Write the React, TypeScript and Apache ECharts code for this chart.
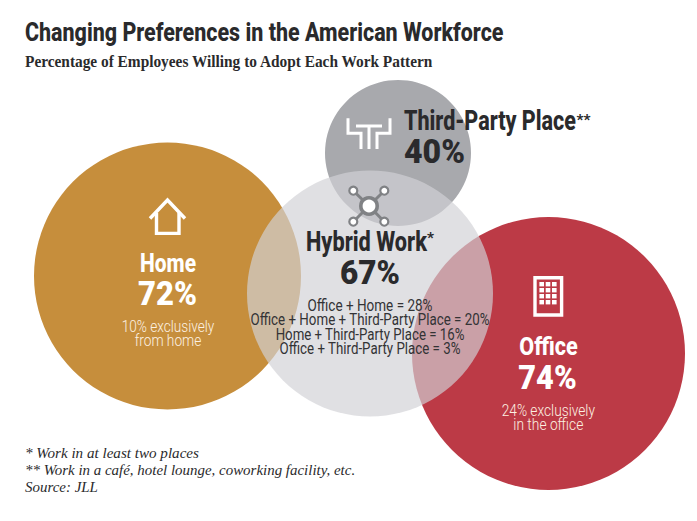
import React, { useEffect, useRef } from "react";
import * as echarts from "echarts";

const categories = ["Third-Party Place", "Home", "Office", "Hybrid Work"];
const percentValues = [40, 72, 74, 67];
const exclusiveHome = 10;
const exclusiveOffice = 24;
const overlapNames = ["Office + Home", "Office + Home + Third-Party Place", "Home + Third-Party Place", "Office + Third-Party Place"];
const overlapValues = [28, 20, 16, 3];
const footnotes = ["* Work in at least two places", "** Work in a café, hotel lounge, coworking facility, etc.", "Source: JLL"];
const chartTitle = "Changing Preferences in the American Workforce";
const chartSubtitle = "Percentage of Employees Willing to Adopt Each Work Pattern";

const W = 697;
const H = 521;
const centersX = [398, 167.5, 548.5, 370];
const centersY = [153, 276, 353.5, 293.5];
const radii = [73, 133.5, 136.5, 123];
const fills = ["#a8a9ad", "#c68e3c", "#bc3a46", "rgba(209,210,213,0.68)"];

const SANS = "Roboto";
const SERIF = "'Liberation Serif'";
const DARK = "#2a2a2c";

const ctx = document.createElement("canvas").getContext("2d")!;
function T(o: {
  text: string; x: number; base: number; size: number; width?: number; weight?: string | number;
  family?: string; color?: string; align?: string; italic?: boolean;
}) {
  const family = o.family || SANS;
  const weight = o.weight ?? "bold";
  const fontStyle = o.italic ? "italic" : "normal";
  ctx.font = `${fontStyle} ${weight} ${o.size}px ${family}`;
  const measured = ctx.measureText(o.text).width;
  const scaleX = o.width ? o.width / measured : 1;
  const k = family === SANS ? 0.32 : 0.3375;
  return {
    type: "text", x: o.x, y: o.base - k * o.size, scaleX, z: 20, silent: true,
    style: {
      text: o.text, x: 0, y: 0, fill: o.color || DARK, font: `${fontStyle} ${weight} ${o.size}px ${family}`,
      textAlign: o.align || "left", textVerticalAlign: "middle",
    },
  };
}

function icons() {
  const white = { stroke: "#fff", lineWidth: 3.4, fill: "none" };
  const els: any[] = [
    { type: "polyline", z: 15, silent: true, shape: { points: [[150, 218.5], [167.5, 200], [185, 218.5]] }, style: white },
    { type: "polyline", z: 15, silent: true, shape: { points: [[156.5, 213], [156.5, 233.4], [179, 233.4], [179, 213]] }, style: white },
    { type: "rect", z: 15, silent: true, shape: { x: 535, y: 277.7, width: 26.6, height: 37.3 }, style: white },
    { type: "polyline", z: 15, silent: true, shape: { points: [[348, 118.3], [348, 133.3], [361, 133.3], [361, 149]] }, style: { ...white, lineWidth: 3 } },
    { type: "polyline", z: 15, silent: true, shape: { points: [[390, 118.3], [390, 133.3], [377, 133.3], [377, 149]] }, style: { ...white, lineWidth: 3 } },
    { type: "line", z: 15, silent: true, shape: { x1: 356, y1: 126, x2: 382, y2: 126 }, style: { ...white, lineWidth: 3 } },
    { type: "line", z: 15, silent: true, shape: { x1: 369, y1: 126, x2: 369, y2: 149 }, style: { ...white, lineWidth: 3 } },
  ];
  for (let row = 0; row < 4; row++) {
    for (let col = 0; col < 3; col++) {
      els.push({ type: "rect", z: 15, silent: true, shape: { x: 539.4 + col * 6.3, y: 282 + row * 6, width: 4.6, height: 4.4 }, style: { fill: "#fff" } });
    }
  }
  const cx = 369, cy = 206;
  const sats = [[353.3, 190.7], [384.3, 190.7], [353.3, 221.7], [384.3, 221.7]];
  const gray = "#808285";
  sats.forEach(([x, y]) => els.push({ type: "line", z: 15, silent: true, shape: { x1: cx, y1: cy, x2: x, y2: y }, style: { stroke: gray, lineWidth: 3 } }));
  sats.forEach(([x, y]) => els.push({ type: "circle", z: 16, silent: true, shape: { cx: x, cy: y, r: 4 }, style: { fill: "#fff", stroke: gray, lineWidth: 2.2 } }));
  els.push({ type: "circle", z: 16, silent: true, shape: { cx, cy, r: 8.2 }, style: { fill: "#fff", stroke: gray, lineWidth: 3.6 } });
  return els;
}

function texts() {
  const [third, home, office, hybrid] = categories;
  const [thirdV, homeV, officeV, hybridV] = percentValues;
  const LIGHT = "#fdf1e2";
  const overlapWidths = [125, 239.3, 189, 181.3];
  const overlapBases = [310.7, 325, 339.3, 354];
  const footWidths = [174, 330, 73];
  const footBases = [458, 475, 491.7];
  return [
    T({ text: chartTitle, x: 25, base: 40.7, size: 26, width: 478.5, weight: 800 }),
    T({ text: chartSubtitle, x: 25, base: 66.5, size: 16, width: 409, family: SERIF }),
    T({ text: third, x: 404, base: 129.3, size: 27, width: 172, weight: 800 }),
    T({ text: "**", x: 576.5, base: 125, size: 14, width: 14 }),
    T({ text: `${thirdV}%`, x: 404, base: 162.7, size: 33, width: 61, weight: 900 }),
    T({ text: hybrid, x: 306, base: 250, size: 27, width: 121, weight: 800 }),
    T({ text: "*", x: 427, base: 243, size: 14, width: 7 }),
    T({ text: `${hybridV}%`, x: 370, base: 283.3, size: 33, width: 60, align: "center", weight: 900 }),
    ...overlapNames.map((n, i) => T({
      text: `${n} = ${overlapValues[i]}%`, x: 370, base: overlapBases[i], size: 16.5, weight: 400,
      width: overlapWidths[i], align: "center", color: "#333335",
    })),
    T({ text: home, x: 168, base: 271, size: 25.5, width: 56, align: "center", color: "#fff", weight: 800 }),
    T({ text: `${homeV}%`, x: 167.5, base: 304.3, size: 33, width: 59, align: "center", color: "#fff", weight: 900 }),
    T({ text: `${exclusiveHome}% exclusively`, x: 168, base: 331.7, size: 16.5, weight: 300, width: 92.7, align: "center", color: LIGHT }),
    T({ text: "from home", x: 168, base: 346, size: 16.5, weight: 300, width: 66.7, align: "center", color: LIGHT }),
    T({ text: office, x: 548.5, base: 354.3, size: 25.5, width: 58.3, align: "center", color: "#fff", weight: 800 }),
    T({ text: `${officeV}%`, x: 547.5, base: 388.3, size: 33, width: 58.3, align: "center", color: "#fff", weight: 900 }),
    T({ text: `${exclusiveOffice}% exclusively`, x: 548.3, base: 415.7, size: 16.5, weight: 300, width: 93.3, align: "center", color: LIGHT }),
    T({ text: "in the office", x: 548.3, base: 430, size: 16.5, weight: 300, width: 70, align: "center", color: LIGHT }),
    ...footnotes.map((n, i) => T({
      text: n, x: 25, base: footBases[i], size: 15, weight: 400, family: SERIF, italic: true,
      width: footWidths[i], color: "#2a2a2c",
    })),
  ];
}

export default function App() {
  const ref = useRef<HTMLDivElement>(null);
  useEffect(() => {
    document.body.style.margin = "0";
    const chart = echarts.init(ref.current!, undefined, { renderer: "svg" });
    chart.setOption({
      animation: false,
      backgroundColor: "#fff",
      grid: { left: 0, right: 0, top: 0, bottom: 0 },
      xAxis: { type: "value", min: 0, max: W, show: false },
      yAxis: { type: "value", min: 0, max: H, inverse: true, show: false },
      tooltip: { show: false },
      series: [{
        type: "scatter",
        silent: true,
        symbol: "circle",
        symbolSize: (_: any, p: any) => radii[p.dataIndex] * 2,
        data: categories.map((name, i) => ({
          name,
          value: [centersX[i], centersY[i], percentValues[i]],
          itemStyle: { color: fills[i], opacity: 1 },
        })),
      }],
      graphic: { elements: [...icons(), ...texts()] },
    });
    return () => chart.dispose();
  }, []);
  return <div ref={ref} style={{ width: W, height: H }} />;
}
